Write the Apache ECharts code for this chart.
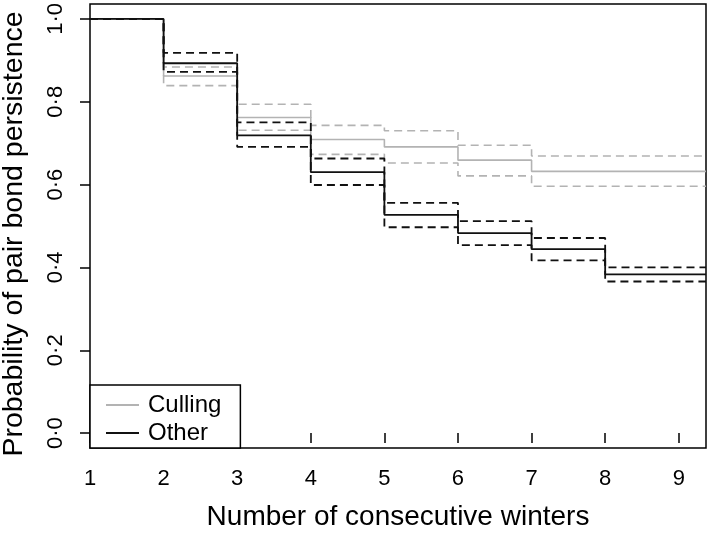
<!DOCTYPE html>
<html>
<head>
<meta charset="utf-8">
<script src="https://cdn.jsdelivr.net/npm/echarts@6/dist/echarts.min.js"></script>
<style>html,body{margin:0;padding:0;background:#fff}#c{width:709px;height:536px}</style>
</head>
<body>
<div id="c"></div>
<script>
// Winter index at which each step starts (last step runs to the plot edge)
var winters = [1, 2, 3, 4, 5, 6, 7, 8];
var xTicks = [1, 2, 3, 4, 5, 6, 7, 8, 9];
var yTicks = [0, 0.2, 0.4, 0.6, 0.8, 1.0];
var yTickLabels = ['0·0', '0·2', '0·4', '0·6', '0·8', '1·0'];

var cullingEst   = [1.0, 0.862, 0.762, 0.709, 0.691, 0.659, 0.632, 0.632];
var cullingUpper = [1.0, 0.884, 0.794, 0.743, 0.730, 0.695, 0.669, 0.669];
var cullingLower = [1.0, 0.839, 0.731, 0.673, 0.652, 0.621, 0.596, 0.596];

var otherEst   = [1.0, 0.893, 0.719, 0.630, 0.527, 0.483, 0.444, 0.383];
var otherUpper = [1.0, 0.918, 0.750, 0.663, 0.556, 0.512, 0.471, 0.400];
var otherLower = [1.0, 0.872, 0.691, 0.599, 0.497, 0.454, 0.417, 0.366];

var X_MIN = 1, X_MAX = 9.37, Y_MIN = -0.036, Y_MAX = 1.036;
var FONT = '"Liberation Sans", Arial, Helvetica, sans-serif';
var GRAY = '#b3b3b3', BLACK = '#111';

function steps(vals) {
  var d = winters.map(function (w, i) { return [w, vals[i]]; });
  d.push([X_MAX, vals[vals.length - 1]]);
  return d;
}
function ser(name, vals, color, dashed, width) {
  return {
    name: name, type: 'line', step: 'end', data: steps(vals),
    symbol: 'none', silent: true, animation: false, color: color,
    lineStyle: { color: color, width: width, type: dashed ? [8, 5] : 'solid' },
    z: color === GRAY ? 2 : 3
  };
}

var chart = echarts.init(document.getElementById('c'), null, { renderer: 'canvas' });
chart.setOption({
  backgroundColor: '#fff',
  animation: false,
  grid: { left: 90, right: 3, top: 4, bottom: 88, outerBoundsMode: 'none', containLabel: false,
          show: true, borderColor: '#000', borderWidth: 1.5, backgroundColor: 'transparent' },
  xAxis: {
    type: 'value', min: X_MIN, max: X_MAX,
    name: 'Number of consecutive winters', nameLocation: 'middle', nameGap: 55,
    nameTextStyle: { fontFamily: FONT, fontSize: 28, color: '#000' },
    axisLine: { show: false },
    splitLine: { show: false },
    axisTick: { show: true, inside: false, length: 10, customValues: xTicks, lineStyle: { color: '#000', width: 1.5 } },
    axisLabel: { customValues: xTicks, margin: 20, fontFamily: FONT, fontSize: 22, color: '#000' }
  },
  yAxis: {
    type: 'value', min: Y_MIN, max: Y_MAX,
    name: 'Probability of pair bond persistence', nameLocation: 'middle', nameGap: 61,
    nameTextStyle: { fontFamily: FONT, fontSize: 28.5, color: '#000', padding: [0, 16, 0, 0] },
    axisLine: { show: false },
    splitLine: { show: false },
    axisTick: { show: true, inside: false, length: 10, customValues: yTicks, lineStyle: { color: '#000', width: 1.5 } },
    axisLabel: {
      customValues: yTicks, margin: 23, rotate: 90, fontFamily: FONT, fontSize: 22, color: '#000',
      formatter: function (v) {
        for (var i = 0; i < yTicks.length; i++) if (Math.abs(yTicks[i] - v) < 1e-6) return yTickLabels[i];
        return '';
      }
    }
  },
  legend: {
    left: 90, top: 385, orient: 'vertical',
    data: ['Culling', 'Other'],
    icon: 'rect', itemWidth: 33, itemHeight: 2, itemGap: 0,
    padding: [6, 19, 1, 16],
    borderColor: '#000', borderWidth: 1.5, backgroundColor: '#fff',
    selectedMode: false,
    textStyle: { fontFamily: FONT, fontSize: 24, color: '#000', lineHeight: 28, padding: [0, 0, 0, 4] }
  },
  series: [
    ser('cullingUpper', cullingUpper, GRAY, true, 1.6),
    ser('cullingLower', cullingLower, GRAY, true, 1.6),
    ser('Culling', cullingEst, GRAY, false, 1.6),
    ser('otherUpper', otherUpper, BLACK, true, 1.8),
    ser('otherLower', otherLower, BLACK, true, 1.8),
    ser('Other', otherEst, BLACK, false, 1.8)
  ]
});
</script>
</body>
</html>
